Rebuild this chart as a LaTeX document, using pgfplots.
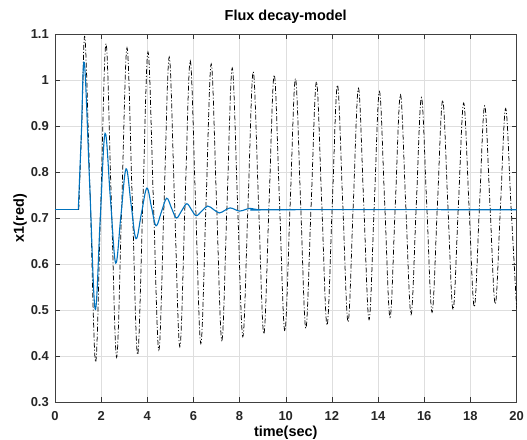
\documentclass[border=0pt]{standalone}
\usepackage{fontspec}
\setmainfont{Liberation Sans}
\usepackage{pgfplots}
\pgfplotsset{compat=1.18}
\definecolor{mblue}{rgb}{0,0.447,0.741}
\begin{document}
\begin{tikzpicture}
\useasboundingbox (-55bp,-38bp) rectangle (472bp,402bp);
\begin{axis}[
  scale only axis,
  width=461.5bp, height=368bp,
  xmin=0, xmax=20, ymin=0.3, ymax=1.1,
  xtick={0,2,...,20},
  ytick={0.3,0.4,0.5,0.6,0.7,0.8,0.9,1.0,1.1},
  /pgf/number format/assume math mode=true,
  /pgf/number format/fixed,
  /pgf/number format/precision=1,
  tick label style={font=\bfseries\fontsize{13}{15}\selectfont, text=black!85},
  xticklabel style={anchor=base, inner sep=0pt, yshift=-18bp},
  yticklabel style={anchor=east, inner sep=0pt, xshift=-6bp},
  tick align=inside,
  major tick length=5bp,
  tick style={black!80, line width=0.5bp},
  axis line style={black!75, line width=0.6bp},
  xmajorgrids, ymajorgrids,
  grid style={black!13, line width=0.5bp},
  title={Flux decay-model},
  title style={font=\bfseries\fontsize{14.5}{16}\selectfont, at={(axis description cs:0.5,1.0217)}, anchor=base, inner sep=0pt},
  xlabel={time(sec)},
  xlabel style={font=\bfseries\fontsize{14.5}{16}\selectfont, at={(axis description cs:0.5,-0.0951)}, anchor=base, inner sep=0pt},
  ylabel={x1(red)},
  ylabel style={font=\bfseries\fontsize{14.5}{16}\selectfont, at={(axis description cs:-0.0672,0.5)}, anchor=base, inner sep=0pt, rotate=0},
]
\addplot[black, line width=0.75bp] coordinates {(0,0.718) (1.03,0.718)};
\addplot[black, line width=0.75bp, dash pattern=on 5bp off 2bp on 1bp off 2bp, smooth, tension=0.6] coordinates {
(1.03,0.718) (1.17,0.92) (1.30,1.091)
(1.53,0.739) (1.76,0.387) (1.985,0.733) (2.21,1.079)
(2.44,0.738) (2.67,0.397) (2.895,0.7335) (3.12,1.070)
(3.35,0.7365) (3.58,0.403) (3.805,0.732) (4.03,1.061)
(4.265,0.737) (4.50,0.413) (4.725,0.7315) (4.95,1.050)
(5.18,0.735) (5.41,0.420) (5.635,0.731) (5.86,1.042)
(6.09,0.7345) (6.32,0.427) (6.545,0.731) (6.77,1.035)
(7.0,0.7345) (7.23,0.434) (7.455,0.730) (7.68,1.026)
(7.91,0.734) (8.14,0.442) (8.365,0.730) (8.59,1.018)
(8.82,0.733) (9.05,0.448) (9.275,0.7295) (9.50,1.011)
(9.73,0.7325) (9.96,0.454) (10.19,0.7285) (10.42,1.003)
(10.645,0.7315) (10.87,0.460) (11.10,0.728) (11.33,0.996)
(11.56,0.7315) (11.79,0.467) (12.015,0.728) (12.24,0.989)
(12.47,0.7315) (12.70,0.474) (12.925,0.728) (13.15,0.982)
(13.38,0.7305) (13.61,0.479) (13.835,0.727) (14.06,0.975)
(14.29,0.7295) (14.52,0.484) (14.745,0.726) (14.97,0.968)
(15.20,0.729) (15.43,0.490) (15.655,0.726) (15.88,0.962)
(16.11,0.7285) (16.34,0.495) (16.57,0.7255) (16.80,0.956)
(17.025,0.7285) (17.25,0.501) (17.48,0.7255) (17.71,0.950)
(17.94,0.7285) (18.17,0.507) (18.395,0.7255) (18.62,0.944)
(18.85,0.7285) (19.08,0.513) (19.305,0.7255) (19.53,0.938)
(19.76,0.728) (19.99,0.518) (20.0,0.5185)
};
\addplot[mblue, line width=1.1bp] coordinates {(0,0.718) (1.01,0.718)};
\addplot[mblue, line width=1.1bp, smooth, tension=0.6] coordinates {
(1.01,0.718) (1.14,0.88) (1.27,1.038)
(1.505,0.770) (1.74,0.502) (1.955,0.693) (2.17,0.884)
(2.40,0.743) (2.63,0.602) (2.855,0.7045) (3.08,0.807)
(3.295,0.731) (3.51,0.655) (3.745,0.710) (3.98,0.765)
(4.18,0.724) (4.38,0.683) (4.61,0.713) (4.84,0.743)
(5.05,0.7215) (5.26,0.700) (5.485,0.7155) (5.71,0.731)
(5.915,0.718) (6.12,0.705) (6.37,0.7155) (6.62,0.726)
(6.87,0.7185) (7.12,0.711) (7.355,0.7165) (7.59,0.722)
(7.795,0.7185) (8.0,0.715) (8.23,0.718) (8.46,0.721)
(8.68,0.719) (8.9,0.717) (9.4,0.718) (20,0.718)
};
\end{axis}
\end{tikzpicture}
\end{document}
